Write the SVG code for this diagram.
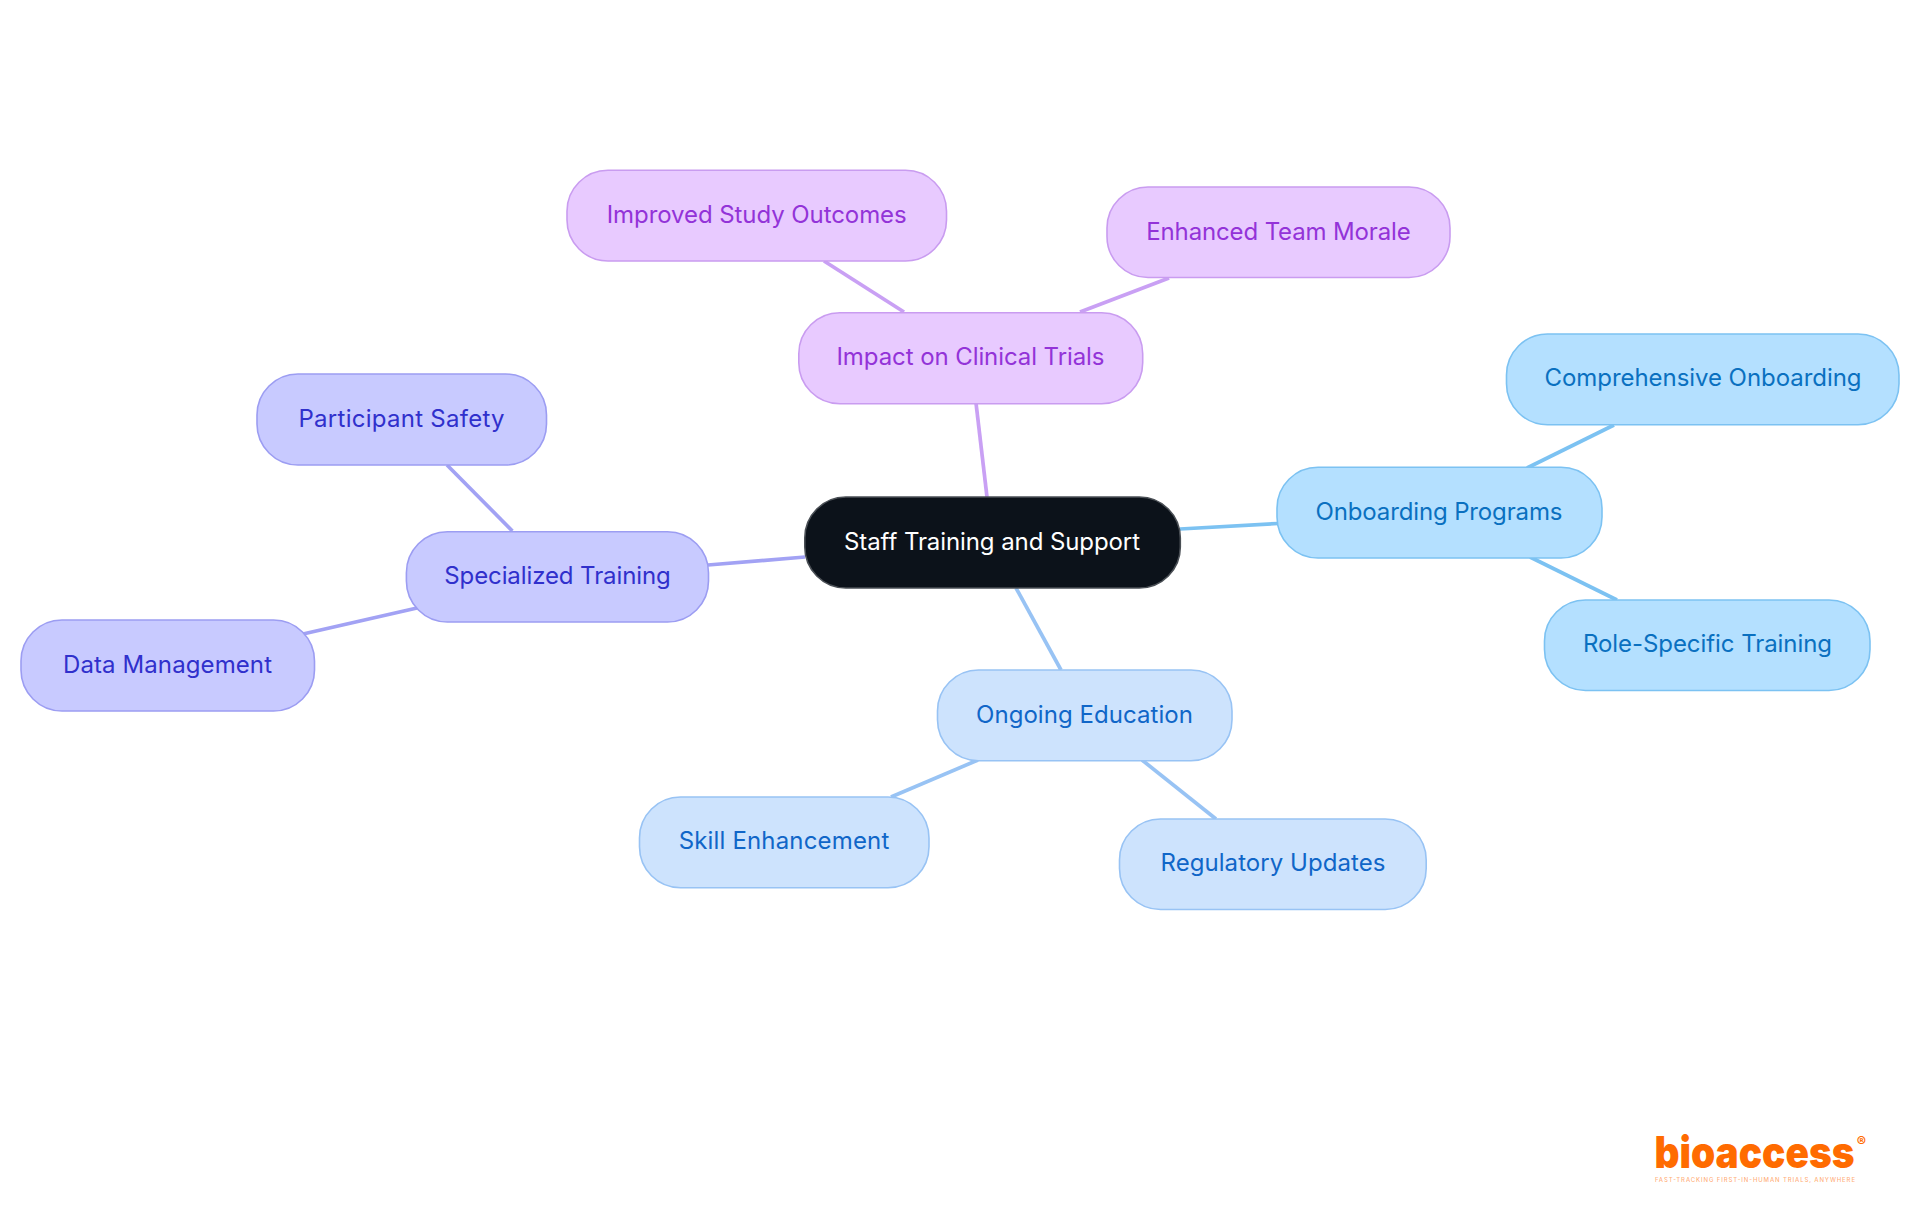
<svg xmlns="http://www.w3.org/2000/svg" width="1920" height="1215" viewBox="0 0 1920 1215">
<style>
text{font-family:"Inter","Noto Sans",sans-serif;font-size:24px;text-anchor:middle}
.n{stroke-width:1.6}
.c line{stroke-width:3.7;fill:none}
.p{fill:#e8caff;stroke:#c99cf0}.pt{fill:#9333d8}.pl{stroke:#c9a0f4}
.i{fill:#c8caff;stroke:#9c9df2}.it{fill:#3030cc}.il{stroke:#a2a2f4}
.s{fill:#b4e0ff;stroke:#7cc2f2}.st{fill:#0a70c0}.sl{stroke:#7cc2f2}
.b{fill:#cde3fd;stroke:#98c3f4}.bt{fill:#1066c8}.bl{stroke:#98c3f4}
</style>
<rect width="1920" height="1215" fill="#ffffff"/>
<g id="connectors" class="c">
<line class="pl" x1="976" y1="403" x2="987" y2="497"/>
<line class="pl" x1="824" y1="261" x2="904" y2="312"/>
<line class="pl" x1="1169" y1="278" x2="1080" y2="312"/>
<line class="sl" x1="1180" y1="529" x2="1278" y2="523.5"/>
<line class="sl" x1="1614" y1="425" x2="1527" y2="468"/>
<line class="sl" x1="1530" y1="557" x2="1617" y2="600"/>
<line class="bl" x1="1016" y1="588" x2="1061" y2="670"/>
<line class="bl" x1="978" y1="760" x2="891" y2="797"/>
<line class="bl" x1="1142" y1="760" x2="1216" y2="819"/>
<line class="il" x1="708" y1="565" x2="805" y2="557"/>
<line class="il" x1="447" y1="465" x2="512.4" y2="531"/>
<line class="il" x1="417" y1="608" x2="303" y2="634"/>
</g>
<g id="root"><rect class="n" x="804.8" y="497" width="375.5" height="91" rx="41" fill="#0c121a" stroke="#4a4f55"/><text x="992" y="550" fill="#ffffff" textLength="296">Staff Training and Support</text></g>
<g id="impact"><rect class="n p" x="798.8" y="312.8" width="343.9" height="90.9" rx="41"/><text class="pt" x="970.5" y="365" textLength="268">Impact on Clinical Trials</text></g>
<g id="improved"><rect class="n p" x="567" y="170.3" width="379.5" height="90.7" rx="41"/><text class="pt" x="756.7" y="223" textLength="300">Improved Study Outcomes</text></g>
<g id="enhanced"><rect class="n p" x="1107" y="187" width="343" height="90.5" rx="41"/><text class="pt" x="1278.5" y="240" textLength="264.5">Enhanced Team Morale</text></g>
<g id="onboarding"><rect class="n s" x="1277" y="467.3" width="325" height="90.7" rx="41"/><text class="st" x="1439" y="520" textLength="247">Onboarding Programs</text></g>
<g id="comprehensive"><rect class="n s" x="1506.5" y="334" width="392.5" height="90.7" rx="41"/><text class="st" x="1703" y="386" textLength="317">Comprehensive Onboarding</text></g>
<g id="role"><rect class="n s" x="1544.5" y="600" width="325.5" height="90.5" rx="41"/><text class="st" x="1707.5" y="652" textLength="249">Role-Specific Training</text></g>
<g id="ongoing"><rect class="n b" x="937.5" y="670" width="294.5" height="90.8" rx="41"/><text class="bt" x="1084.5" y="723" textLength="217">Ongoing Education</text></g>
<g id="skill"><rect class="n b" x="639.5" y="797" width="289.5" height="90.8" rx="41"/><text class="bt" x="784" y="849" textLength="210.6">Skill Enhancement</text></g>
<g id="regulatory"><rect class="n b" x="1119.5" y="819" width="306.7" height="90.5" rx="41"/><text class="bt" x="1273" y="871" textLength="225">Regulatory Updates</text></g>
<g id="specialized"><rect class="n i" x="406.4" y="531.8" width="302.1" height="90.2" rx="41"/><text class="it" x="557.5" y="584" textLength="226.5">Specialized Training</text></g>
<g id="participant"><rect class="n i" x="257" y="374" width="289.5" height="91" rx="41"/><text class="it" x="401.5" y="427" textLength="206">Participant Safety</text></g>
<g id="data"><rect class="n i" x="21" y="620" width="293.5" height="91" rx="41"/><text class="it" x="167.5" y="673" textLength="209">Data Management</text></g>
<g id="logo">
<text x="1654.5" y="1167.5" fill="#ff6b00" style="font-size:44px;font-weight:900;text-anchor:start" textLength="200" lengthAdjust="spacingAndGlyphs">bioaccess</text>
<text x="1861.5" y="1147" fill="#ff6b00" style="font-size:14px;font-weight:700">®</text>
<text x="1755" y="1181.5" fill="#ff6b00" fill-opacity=".55" style="font-size:6px;font-weight:500" textLength="200">FAST-TRACKING FIRST-IN-HUMAN TRIALS, ANYWHERE</text>
</g>
</svg>
